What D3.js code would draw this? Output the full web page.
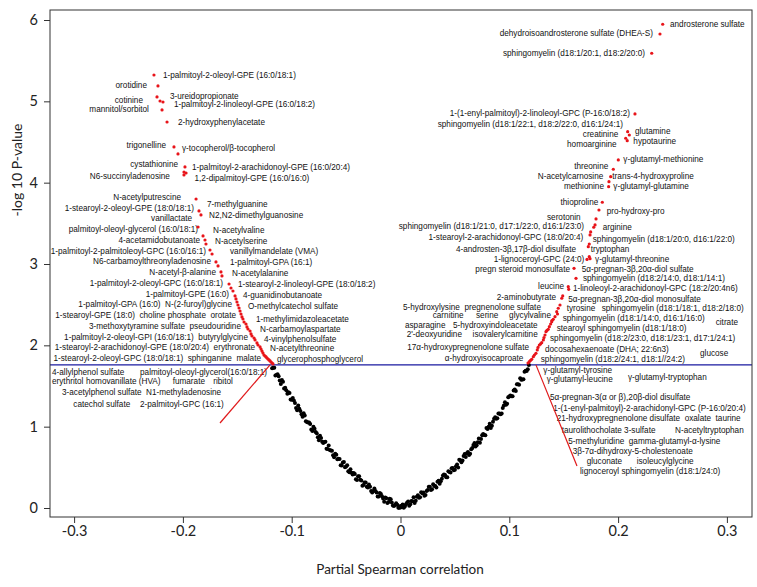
<!DOCTYPE html>
<html><head><meta charset="utf-8">
<script src="https://cdn.jsdelivr.net/npm/d3@7"></script>
<style>body{margin:0;background:#fff}svg{display:block}</style>
</head><body>
<script>
// ---------- data ----------
const xTicks=[-0.3,-0.2,-0.1,0,0.1,0.2,0.3];
const xTickLabels=["-0.3","-0.2","-0.1","0","0.1","0.2","0.3"];
const yTicks=[0,1,2,3,4,5,6];
const xTitle="Partial Spearman correlation";
const yTitle="-log 10 P-value";
const threshold=1.76;

// non-significant metabolites (black): [correlation, -log10 p]
const nsLeft=[[-0.0005,0.020],[-0.002,0.004],[-0.004,0.059],[-0.006,0.024],[-0.008,0.069],[-0.010,0.115],[-0.012,0.061],[-0.014,0.128],[-0.016,0.116],[-0.018,0.173],[-0.020,0.142],[-0.022,0.191],[-0.024,0.240],[-0.026,0.190],[-0.028,0.260],[-0.030,0.251],[-0.032,0.312],[-0.034,0.284],[-0.036,0.337],[-0.038,0.389],[-0.040,0.343],[-0.042,0.417],[-0.044,0.412],[-0.046,0.477],[-0.048,0.452],[-0.050,0.509],[-0.052,0.565],[-0.054,0.523],[-0.056,0.601],[-0.058,0.599],[-0.060,0.668],[-0.062,0.648],[-0.064,0.708],[-0.066,0.769],[-0.068,0.730],[-0.070,0.812],[-0.072,0.814],[-0.074,0.887],[-0.076,0.871],[-0.078,0.935],[-0.080,1.000],[-0.082,0.966],[-0.084,1.052],[-0.086,1.058],[-0.088,1.136],[-0.090,1.123],[-0.092,1.192],[-0.094,1.261],[-0.096,1.231],[-0.098,1.321],[-0.100,1.332],[-0.102,1.413],[-0.104,1.406],[-0.106,1.479],[-0.108,1.551],[-0.110,1.526],[-0.112,1.620],[-0.114,1.636],[-0.116,1.723],[-0.118,1.718],
[-0.001,0.002],[-0.003,0.041],[-0.005,0.036],[-0.007,0.031],[-0.009,0.107],[-0.011,0.073],[-0.013,0.120],[-0.015,0.077],[-0.017,0.145],[-0.019,0.183],[-0.021,0.141],[-0.023,0.210],[-0.025,0.210],[-0.027,0.210],[-0.029,0.290],[-0.031,0.262],[-0.033,0.313],[-0.035,0.275],[-0.037,0.348],[-0.039,0.391],[-0.041,0.355],[-0.043,0.429],[-0.045,0.434],[-0.047,0.439],[-0.049,0.525],[-0.051,0.502],[-0.053,0.559],[-0.055,0.527],[-0.057,0.605],[-0.059,0.654],[-0.061,0.623],[-0.063,0.703],[-0.065,0.713],[-0.067,0.724],[-0.069,0.816],[-0.071,0.798],[-0.073,0.861],[-0.075,0.834],[-0.077,0.918],[-0.079,0.973],[-0.081,0.948],[-0.083,1.034],[-0.085,1.050],[-0.087,1.067],[-0.089,1.165],[-0.091,1.153],[-0.093,1.221],[-0.095,1.201],[-0.097,1.291],[-0.099,1.352],[-0.101,1.333],[-0.103,1.424],[-0.105,1.447],[-0.107,1.470],[-0.109,1.574],[-0.111,1.568],[-0.113,1.643],[-0.115,1.629],[-0.117,1.725]];
const nsRight=[[0.0005,0.010],[0.002,0.044],[0.004,0.019],[0.006,0.064],[0.008,0.029],[0.010,0.085],[0.012,0.131],[0.014,0.088],[0.016,0.156],[0.018,0.133],[0.020,0.182],[0.022,0.151],[0.024,0.210],[0.026,0.260],[0.028,0.220],[0.030,0.291],[0.032,0.272],[0.034,0.324],[0.036,0.297],[0.038,0.359],[0.040,0.413],[0.042,0.377],[0.044,0.452],[0.046,0.437],[0.048,0.492],[0.050,0.469],[0.052,0.535],[0.054,0.593],[0.056,0.561],[0.058,0.639],[0.060,0.628],[0.062,0.688],[0.064,0.668],[0.066,0.739],[0.068,0.800],[0.070,0.772],[0.072,0.854],[0.074,0.847],[0.076,0.911],[0.078,0.895],[0.080,0.970],[0.082,1.036],[0.084,1.012],[0.086,1.098],[0.088,1.096],[0.090,1.163],[0.092,1.152],[0.094,1.231],[0.096,1.301],[0.098,1.281],[0.100,1.372],[0.102,1.373],[0.104,1.446],[0.106,1.439],[0.108,1.521],[0.110,1.596],[0.112,1.580],[0.114,1.676],[0.116,1.683],[0.118,1.758],
[0.001,0.027],[0.003,0.003],[0.005,0.046],[0.007,0.081],[0.009,0.047],[0.011,0.083],[0.013,0.060],[0.015,0.137],[0.017,0.125],[0.019,0.193],[0.021,0.191],[0.023,0.160],[0.025,0.220],[0.027,0.260],[0.029,0.230],[0.031,0.272],[0.033,0.253],[0.035,0.335],[0.037,0.328],[0.039,0.401],[0.041,0.405],[0.043,0.379],[0.045,0.444],[0.047,0.489],[0.049,0.465],[0.051,0.512],[0.053,0.499],[0.055,0.587],[0.057,0.585],[0.059,0.664],[0.061,0.673],[0.063,0.653],[0.065,0.723],[0.067,0.774],[0.069,0.756],[0.071,0.808],[0.073,0.801],[0.075,0.894],[0.077,0.898],[0.079,0.983],[0.081,0.998],[0.083,0.984],[0.085,1.060],[0.087,1.117],[0.089,1.105],[0.091,1.163],[0.093,1.161],[0.095,1.261],[0.097,1.271],[0.099,1.362],[0.101,1.383],[0.103,1.374],[0.105,1.457],[0.107,1.520],[0.109,1.514],[0.111,1.578],[0.113,1.583],[0.115,1.689],[0.117,1.705]];

// significant metabolites (red)
const sigLeft=[[-0.2266,5.324],[-0.2229,5.189],[-0.2238,5.054],[-0.2210,5.004],[-0.2183,4.992],[-0.2192,4.894],[-0.2146,4.746],[-0.2082,4.439],[-0.2045,4.353],[-0.1981,4.193],[-0.1990,4.131],[-0.1971,4.119],[-0.1990,4.095],[-0.1879,3.799],[-0.1852,3.652],[-0.1834,3.603],[-0.1861,3.455],[-0.1815,3.345],[-0.1797,3.295],[-0.1788,3.246],[-0.1751,3.172],[-0.1732,3.123],[-0.1696,3.025],[-0.1677,2.976],[-0.1650,2.902],[-0.1641,2.853],[-0.1576,2.754],[-0.1558,2.705],[-0.1540,2.668],[-0.1521,2.607],[-0.1512,2.570],[-0.1503,2.533],[-0.1494,2.496],[-0.1484,2.459],[-0.1475,2.422],[-0.1466,2.385],[-0.1457,2.349],[-0.1448,2.324],[-0.1438,2.287],[-0.1420,2.262],[-0.1411,2.226],[-0.1402,2.201],[-0.1383,2.176],[-0.1374,2.140],[-0.1365,2.115],[-0.1346,2.090],[-0.1337,2.066],[-0.1319,2.029],[-0.1310,2.004],[-0.1291,1.980],[-0.1282,1.955],[-0.1273,1.930],[-0.1264,1.906],[-0.1255,1.881],[-0.1245,1.869],[-0.1236,1.857],[-0.1227,1.844],[-0.1218,1.832],[-0.1209,1.820],[-0.1199,1.808],[-0.1190,1.795],[-0.1181,1.783],[-0.1172,1.771]];
const sigRight=[[0.2410,5.948],[0.2385,5.828],[0.2309,5.591],[0.2155,4.845],[0.2088,4.627],[0.2103,4.586],[0.2070,4.546],[0.2084,4.516],[0.2002,4.279],[0.1956,4.165],[0.1932,4.074],[0.1916,4.012],[0.1913,3.951],[0.1855,3.759],[0.1824,3.664],[0.1797,3.554],[0.1788,3.480],[0.1776,3.452],[0.1748,3.394],[0.1742,3.357],[0.1735,3.246],[0.1726,3.213],[0.1735,3.090],[0.1742,3.065],[0.1714,3.056],[0.1595,2.947],[0.1613,2.824],[0.1542,2.721],[0.1546,2.689],[0.1491,2.607],[0.1482,2.579],[0.1466,2.496],[0.1450,2.456],[0.1443,2.385],[0.1436,2.414],[0.1420,2.352],[0.1404,2.320],[0.1392,2.305],[0.1390,2.291],[0.1380,2.262],[0.1368,2.229],[0.1358,2.197],[0.1346,2.183],[0.1337,2.168],[0.1328,2.127],[0.1319,2.096],[0.1313,2.066],[0.1298,2.033],[0.1287,2.017],[0.1276,2.004],[0.1264,1.974],[0.1257,1.943],[0.1245,1.902],[0.1231,1.881],[0.1221,1.860],[0.1206,1.828],[0.1195,1.814],[0.1184,1.799],[0.1172,1.783]];

// label annotations: [text, correlation, -log10 p, anchor]
const labels=[
["1-palmitoyl-2-oleoyl-GPE (16:0/18:1)",-0.2183,5.324,"start"],
["orotidine",-0.2330,5.195,"end"],
["3-ureidopropionate",-0.2119,5.066,"start"],
["cotinine",-0.2367,5.017,"end"],
["1-palmitoyl-2-linoleoyl-GPE (16:0/18:2)",-0.2082,4.961,"start"],
["mannitol/sorbitol",-0.2312,4.900,"end"],
["2-hydroxyphenylacetate",-0.2045,4.746,"start"],
["trigonelline",-0.2155,4.463,"end"],
["γ-tocopherol/β-tocopherol",-0.2008,4.427,"start"],
["cystathionine",-0.2045,4.230,"end"],
["1-palmitoyl-2-arachidonoyl-GPE (16:0/20:4)",-0.1916,4.187,"start"],
["N6-succinyladenosine",-0.2119,4.082,"end"],
["1,2-dipalmitoyl-GPE (16:0/16:0)",-0.1893,4.052,"start"],
["N-acetylputrescine",-0.2017,3.824,"end"],
["7-methylguanine",-0.1778,3.738,"start"],
["1-stearoyl-2-oleoyl-GPE (18:0/18:1)",-0.1898,3.691,"end"],
["N2,N2-dimethylguanosine",-0.1760,3.603,"start"],
["vanillactate",-0.1916,3.560,"end"],
["palmitoyl-oleoyl-glycerol (16:0/18:1)",-0.1861,3.427,"end"],
["N-acetylvaline",-0.1723,3.412,"start"],
["4-acetamidobutanoate",-0.1843,3.295,"end"],
["N-acetylserine",-0.1705,3.277,"start"],
["1-palmitoyl-2-palmitoleoyl-GPC (16:0/16:1)",-0.1788,3.163,"end"],
["vanillylmandelate (VMA)",-0.1567,3.154,"start"],
["N6-carbamoylthreonyladenosine",-0.1742,3.031,"end"],
["1-palmitoyl-GPA (16:1)",-0.1567,3.019,"start"],
["N-acetyl-β-alanine",-0.1696,2.898,"end"],
["N-acetylalanine",-0.1549,2.883,"start"],
["1-palmitoyl-2-oleoyl-GPC (16:0/18:1)",-0.1631,2.767,"end"],
["1-stearoyl-2-linoleoyl-GPE (18:0/18:2)",-0.1494,2.748,"start"],
["1-palmitoyl-GPE (16:0)",-0.1576,2.634,"end"],
["4-guanidinobutanoate",-0.1448,2.613,"start"],
["1-palmitoyl-GPA (16:0)  N-(2-furoyl)glycine",-0.1549,2.502,"end"],
["O-methylcatechol sulfate",-0.1402,2.484,"start"],
["1-stearoyl-GPE (18:0)  choline phosphate  orotate",-0.1512,2.369,"end"],
["1-methylimidazoleacetate",-0.1328,2.324,"start"],
["3-methoxytyramine sulfate  pseudouridine",-0.1466,2.238,"end"],
["N-carbamoylaspartate",-0.1291,2.195,"start"],
["1-palmitoyl-2-oleoyl-GPI (16:0/18:1)  butyrylglycine",-0.1402,2.105,"end"],
["4-vinylphenolsulfate",-0.1255,2.074,"start"],
["1-stearoyl-2-arachidonoyl-GPE (18:0/20:4)  erythronate",-0.1337,1.974,"end"],
["N-acetylthreonine",-0.1199,1.961,"start"],
["1-stearoyl-2-oleoyl-GPC (18:0/18:1)  sphinganine  malate",-0.1282,1.841,"end"],
["glycerophosphoglycerol",-0.1135,1.828,"start"],
["4-allylphenol sulfate",-0.3203,1.676,"start"],
["palmitoyl-oleoyl-glycerol(16:0/18:1)",-0.2394,1.676,"start"],
["erythritol",-0.3203,1.562,"start"],
["homovanillate (HVA)",-0.2891,1.562,"start"],
["fumarate",-0.2094,1.562,"start"],
["ribitol",-0.1721,1.562,"start"],
["3-acetylphenol sulfate",-0.3111,1.430,"start"],
["N1-methyladenosine",-0.2339,1.430,"start"],
["catechol sulfate",-0.3007,1.275,"start"],
["2-palmitoyl-GPC (16:1)",-0.2394,1.275,"start"],
["androsterone sulfate",0.2477,5.951,"start"],
["dehydroisoandrosterone sulfate (DHEA-S)",0.2321,5.834,"end"],
["sphingomyelin (d18:1/20:1, d18:2/20:0)",0.2247,5.598,"end"],
["1-(1-enyl-palmitoyl)-2-linoleoyl-GPC (P-16:0/18:2)",0.2109,4.853,"end"],
["sphingomyelin (d18:1/22:1, d18:2/22:0, d16:1/24:1)",0.2045,4.722,"end"],
["glutamine",0.2155,4.629,"start"],
["creatinine",0.2002,4.593,"end"],
["hypotaurine",0.2140,4.516,"start"],
["homoarginine",0.1987,4.476,"end"],
["γ-glutamyl-methionine",0.2048,4.291,"start"],
["threonine",0.1910,4.205,"end"],
["N-acetylcarnosine",0.1864,4.082,"end"],
["trans-4-hydroxyproline",0.1947,4.082,"start"],
["methionine",0.1870,3.959,"end"],
["γ-glutamyl-glutamine",0.1956,3.959,"start"],
["thioproline",0.1818,3.766,"end"],
["pro-hydroxy-pro",0.1895,3.656,"start"],
["serotonin",0.1656,3.582,"end"],
["sphingomyelin (d18:1/21:0, d17:1/22:0, d16:1/23:0)",0.1687,3.467,"end"],
["arginine",0.1858,3.452,"start"],
["1-stearoyl-2-arachidonoyl-GPC (18:0/20:4)",0.1680,3.329,"end"],
["sphingomyelin (d18:1/20:0, d16:1/22:0)",0.1767,3.311,"start"],
["4-androsten-3β,17β-diol disulfate",0.1613,3.188,"end"],
["tryptophan",0.1748,3.188,"start"],
["1-lignoceroyl-GPC (24:0)",0.1689,3.065,"end"],
["γ-glutamyl-threonine",0.1788,3.065,"start"],
["pregn steroid monosulfate",0.1558,2.942,"end"],
["5α-pregnan-3β,20α-diol sulfate",0.1665,2.942,"start"],
["sphingomyelin (d18:2/14:0, d18:1/14:1)",0.1677,2.824,"start"],
["leucine",0.1503,2.724,"end"],
["1-linoleoyl-2-arachidonoyl-GPC (18:2/20:4n6)",0.1585,2.705,"start"],
["2-aminobutyrate",0.1429,2.598,"end"],
["5α-pregnan-3β,20α-diol monosulfate",0.1542,2.566,"start"],
["5-hydroxylysine",0.0023,2.475,"start"],
["pregnenolone sulfate",0.1291,2.475,"end"],
["tyrosine",0.1527,2.456,"start"],
["sphingomyelin (d18:1/18:1, d18:2/18:0)",0.1849,2.456,"start"],
["carnitine",0.0296,2.369,"start"],
["serine",0.0694,2.369,"start"],
["glycylvaline",0.1383,2.369,"end"],
["sphingomyelin (d18:1/14:0, d16:1/16:0)",0.1491,2.333,"start"],
["citrate",0.2897,2.283,"start"],
["asparagine",0.0041,2.250,"start"],
["5-hydroxyindoleacetate",0.1261,2.250,"end"],
["stearoyl sphingomyelin (d18:1/18:0)",0.1436,2.210,"start"],
["2'-deoxyuridine",0.0057,2.140,"start"],
["isovalerylcarnitine",0.1261,2.140,"end"],
["sphingomyelin (d18:2/23:0, d18:1/23:1, d17:1/24:1)",0.1374,2.087,"start"],
["17α-hydroxypregnenolone sulfate",0.1181,1.983,"end"],
["docosahexaenoate (DHA; 22:6n3)",0.1328,1.951,"start"],
["glucose",0.2753,1.902,"start"],
["α-hydroxyisocaproate",0.1129,1.841,"end"],
["sphingomyelin (d18:2/24:1, d18:1//24:2)",0.1289,1.828,"start"],
["γ-glutamyl-tyrosine",0.1313,1.697,"start"],
["γ-glutamyl-leucine",0.1344,1.582,"start"],
["γ-glutamyl-tryptophan",0.2091,1.614,"start"],
["5α-pregnan-3(α or β),20β-diol disulfate",0.1374,1.369,"start"],
["1-(1-enyl-palmitoyl)-2-arachidonyl-GPC (P-16:0/20:4)",0.1404,1.226,"start"],
["21-hydroxypregnenolone disulfate  oxalate  taurine",0.1436,1.103,"start"],
["taurolithocholate 3-sulfate",0.1482,0.959,"start"],
["N-acetyltryptophan",0.2523,0.959,"start"],
["5-methyluridine  gamma-glutamyl-α-lysine",0.1542,0.828,"start"],
["3β-7α-dihydroxy-5-cholestenoate",0.1583,0.705,"start"],
["gluconate",0.1711,0.582,"start"],
["isoleucylglycine",0.2171,0.582,"start"],
["lignoceroyl sphingomyelin (d18:1/24:0)",0.1650,0.459,"start"]
];

// red leader lines for the groups listed below the threshold
const callouts=[[[-0.1659,1.045],[-0.1199,1.76]],[[0.1245,1.76],[0.1622,0.516]]];

// ---------- drawing ----------
const W=757,H=587;
const box={l:50,r:752,t:10,b:517};
const x=d3.scaleLinear().domain([-0.3,0.3]).range([74.1,726.9]);
const y=d3.scaleLinear().domain([0,6]).range([508,20]);

const svg=d3.select("body").append("svg").attr("width",W).attr("height",H);

// labels
svg.append("g").selectAll("text").data(labels).join("text")
  .attr("x",d=>x(d[1])).attr("y",d=>y(d[2]))
  .attr("dy","0.35em")
  .attr("text-anchor",d=>d[3])
  .style("white-space","pre")
  .attr("font-family","'Liberation Sans', Arial, sans-serif")
  .attr("font-size",8.2).attr("fill","#111")
  .text(d=>d[0]);

// threshold line
svg.append("line").attr("x1",box.l).attr("x2",box.r)
  .attr("y1",y(threshold)).attr("y2",y(threshold))
  .attr("stroke","#1a1aa0").attr("stroke-width",1.2);

// callouts
svg.append("g").selectAll("line").data(callouts).join("line")
  .attr("x1",d=>x(d[0][0])).attr("y1",d=>y(d[0][1]))
  .attr("x2",d=>x(d[1][0])).attr("y2",d=>y(d[1][1]))
  .attr("stroke","#e0191b").attr("stroke-width",1.2);

// black points
svg.append("g").selectAll("circle").data(nsLeft.concat(nsRight)).join("circle")
  .attr("cx",d=>x(d[0])).attr("cy",d=>y(d[1])).attr("r",2).attr("fill","#000");

// red points
svg.append("g").selectAll("circle").data(sigLeft.concat(sigRight)).join("circle")
  .attr("cx",d=>x(d[0])).attr("cy",d=>y(d[1])).attr("r",1.6).attr("fill","#e8141a");

// box
svg.append("rect").attr("x",box.l).attr("y",box.t)
  .attr("width",box.r-box.l).attr("height",box.b-box.t)
  .attr("fill","none").attr("stroke","#333").attr("stroke-width",1);

// axes
const tickFont="Lato, 'Open Sans', sans-serif";
const ax=svg.append("g").attr("transform",`translate(0,${box.b})`)
  .call(d3.axisBottom(x).tickValues(xTicks).tickFormat((d,i)=>xTickLabels[i]).tickSize(6).tickPadding(3));
const ay=svg.append("g").attr("transform",`translate(${box.l},0)`)
  .call(d3.axisLeft(y).tickValues(yTicks).tickFormat(d3.format("d")).tickSize(6).tickPadding(6));
[ax,ay].forEach(g=>{
  g.select(".domain").remove();
  g.selectAll(".tick line").attr("stroke","#333");
  g.selectAll(".tick text").attr("font-family",tickFont).attr("font-size",14.5).attr("fill","#222");
});

// titles
svg.append("text").attr("x",400).attr("y",574).attr("text-anchor","middle")
  .attr("font-family",tickFont).attr("font-size",13.5).attr("fill","#222").text(xTitle);
svg.append("text").attr("transform","translate(22,170) rotate(-90)").attr("text-anchor","middle")
  .attr("font-family",tickFont).attr("font-size",14).attr("fill","#222").text(yTitle);
</script>
</body></html>
